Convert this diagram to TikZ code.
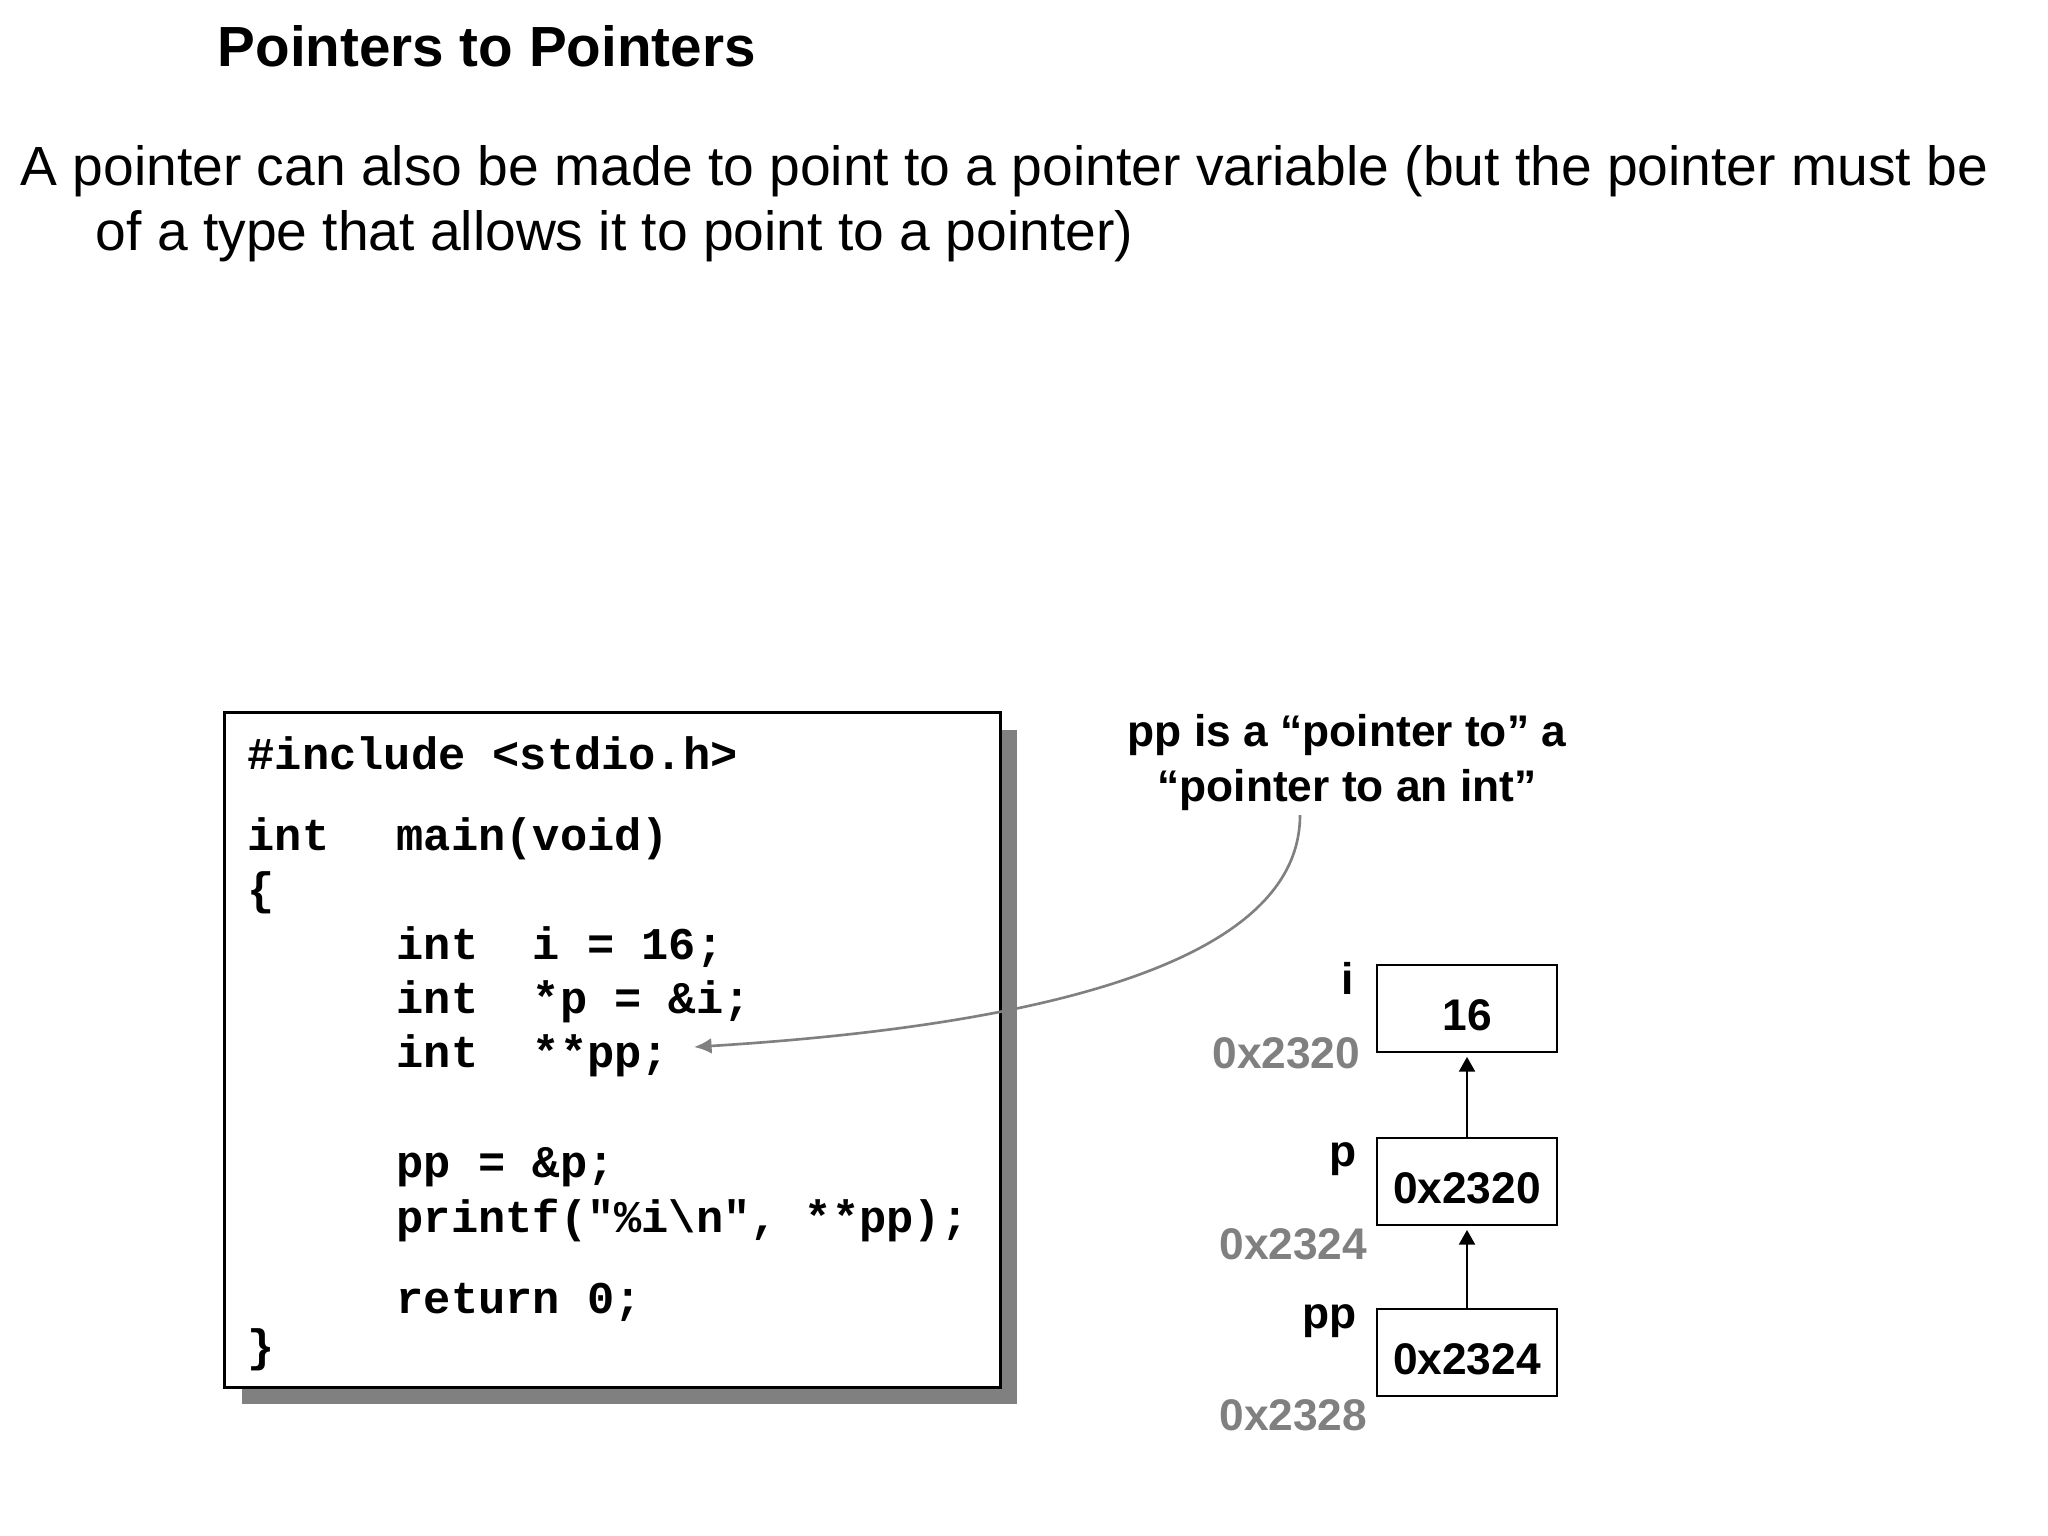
\documentclass[tikz,border=0pt]{standalone}
\usepackage{fontspec}
\setmainfont{Liberation Sans}
\setmonofont{Liberation Mono}
\usetikzlibrary{arrows.meta,shadows}
\definecolor{addrgray}{RGB}{128,128,128}

\begin{document}
\begin{tikzpicture}[x=0.01cm,y=-0.01cm,
	code/.style={anchor=base west,inner sep=0pt,font=\fontsize{12.9}{15}\selectfont\ttfamily\bfseries},
	cell/.style={draw,line width=0.75pt,minimum width=1.8cm,minimum height=0.87cm,inner sep=0pt,
		text height=12.5pt,text depth=0pt,font=\fontsize{12.6}{15}\selectfont\bfseries},
	lbl/.style={anchor=base east,inner sep=0pt,font=\fontsize{12.6}{15}\selectfont\bfseries},
	addr/.style={lbl,text=addrgray},
	ptr/.style={line width=0.75pt,-{Triangle[width=4.5pt,length=4.2pt]},shorten >=1pt},
	link/.style={addrgray,line width=0.75pt,-{Latex[width=4.5pt,length=5pt]}}]
	\useasboundingbox (0,0) rectangle (2048,1536);
	% heading and text
	\node[anchor=base west,inner sep=0pt,font=\fontsize{16.1}{19}\selectfont\bfseries] (title) at (217,66) {Pointers to Pointers};
	\node[anchor=base west,inner sep=0pt,font=\fontsize{15.7}{19}\selectfont] (txta) at (20,185) {A pointer can also be made to point to a pointer variable (but the pointer must be};
	\node[anchor=base west,inner sep=0pt,font=\fontsize{15.7}{19}\selectfont] (txtb) at (95,250) {of a type that allows it to point to a pointer)};
	% the program
	\node[draw,fill=white,line width=0.8pt,minimum width=7.75cm,minimum height=6.74cm,
		drop shadow={shadow xshift=0.17cm,shadow yshift=-0.17cm,fill=addrgray,opacity=1}] (codebox) at (612.5,1050) {};
	\node[code] (linc) at (247,769) {\#include <stdio.h>};
	\node[code] (lint) at (247,850) {int};
	\node[code] (lmain) at (396,850) {main(void)};
	\node[code] (lopen) at (247,904) {\{};
	\node[code] (li) at (396,959) {int~~i = 16;};
	\node[code] (lp) at (396,1013) {int~~*p = \&i;};
	\node[code] (lpp) at (396,1067) {int~~**pp;};
	\node[code] (lset) at (396,1177) {pp = \&p;};
	\node[code] (lprint) at (396,1232) {printf("\%i\textbackslash n", **pp);};
	\node[code] (lret) at (396,1313) {return 0;};
	\node[code] (lclose) at (247,1361) {\}};
	% memory
	\node[cell] (ibox) at (1467,1008.5) {16};
	\node[cell] (pbox) at (1467,1181.5) {0x2320};
	\node[cell] (ppbox) at (1467,1352.5) {0x2324};
	\node[lbl] (iname) at (1354,994) {i};
	\node[lbl] (pname) at (1357,1166) {p};
	\node[lbl] (ppname) at (1357,1328) {pp};
	\node[addr] (iaddr) at (1361,1068) {0x2320};
	\node[addr] (paddr) at (1368,1259) {0x2324};
	\node[addr] (ppaddr) at (1368,1430) {0x2328};
	\draw[ptr] (pbox.north) -- (ibox.south);
	\draw[ptr] (ppbox.north) -- (pbox.south);
	% note
	\node[anchor=base,align=center,inner sep=0pt,font=\fontsize{12.6}{15.6}\selectfont\bfseries] (note) at (1347,801)
		{pp is a “pointer to” a\\“pointer to an int”};
	\coordinate (nstart) at (1300,815);
	\coordinate (tip) at (694,1047);
	\draw[link] (nstart) .. controls (1300,960) and (1050,1025) .. (tip);
\end{tikzpicture}
\end{document}
